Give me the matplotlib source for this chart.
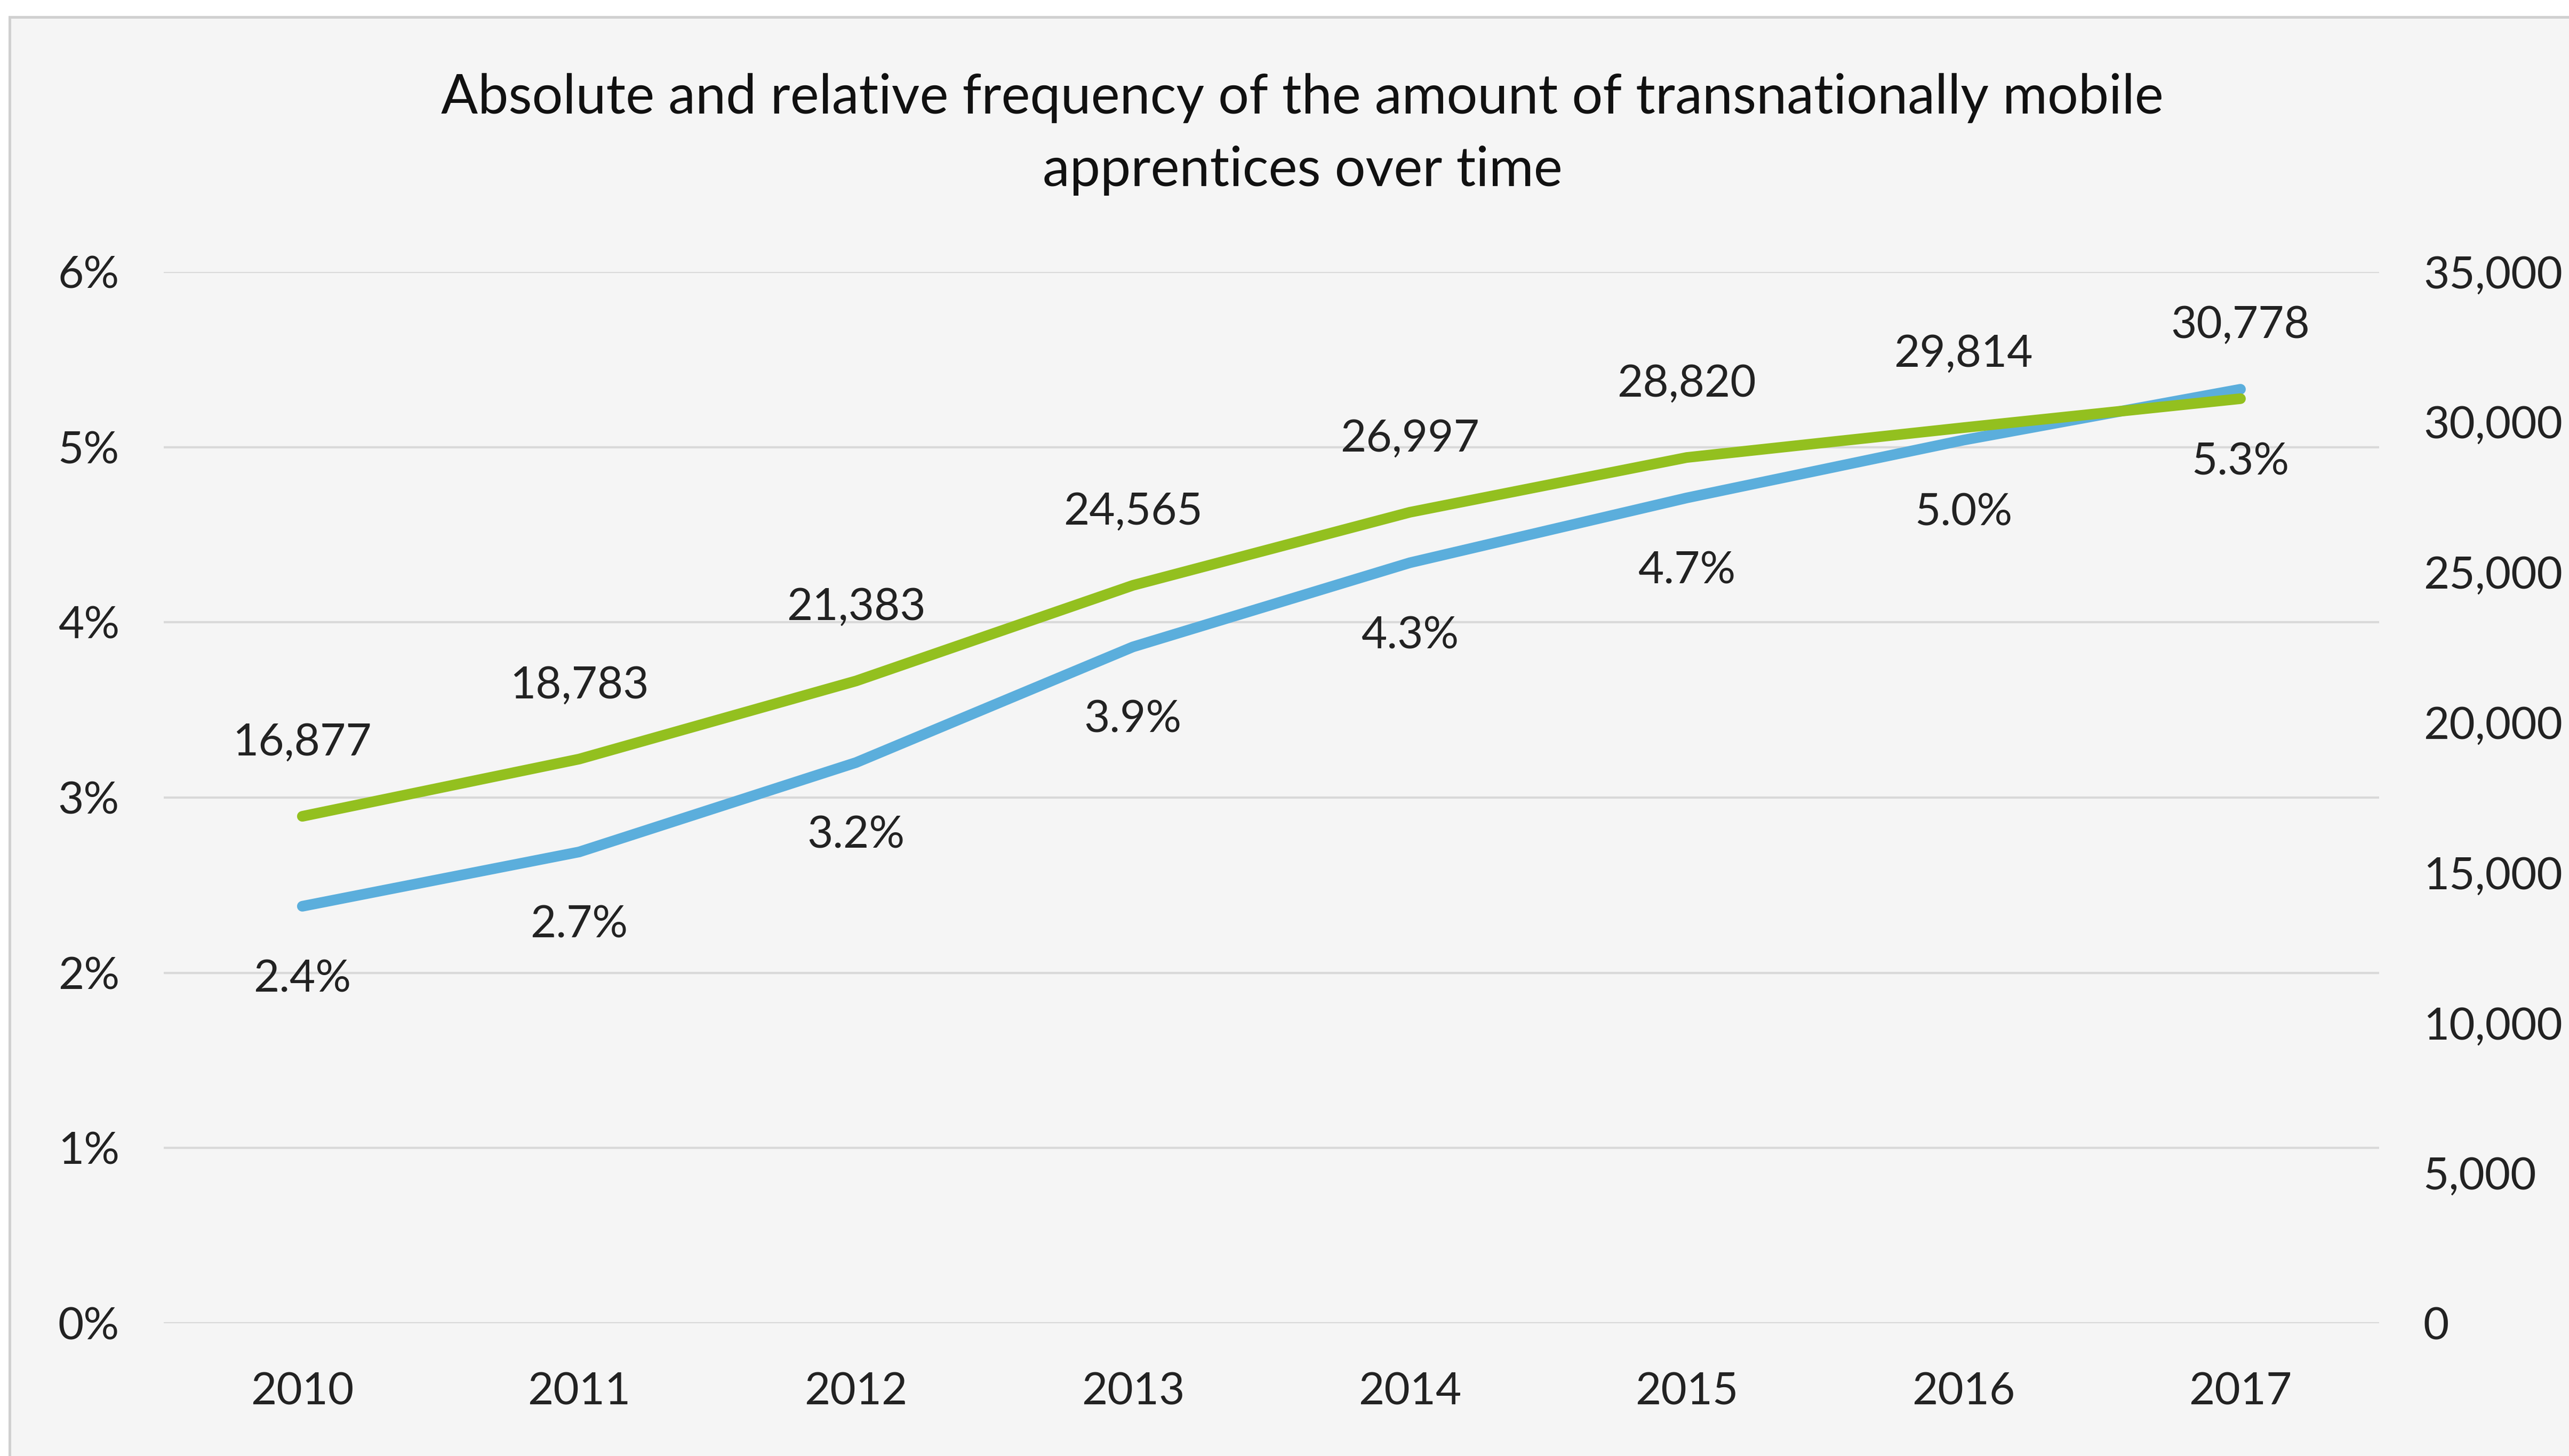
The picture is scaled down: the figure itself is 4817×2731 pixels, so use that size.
import matplotlib.pyplot as plt
from matplotlib.patches import Rectangle
from matplotlib.ticker import FuncFormatter

years = ['2010', '2011', '2012', '2013', '2014', '2015', '2016', '2017']
share = [2.38, 2.69, 3.20, 3.86, 4.34, 4.71, 5.04, 5.33]   # relative, %
apprentices = [16877, 18783, 21383, 24565, 26997, 28820, 29814, 30778]   # absolute

blue = '#5BAEDC'
green = '#93C01F'
plt.rcParams['font.family'] = ['Lato', 'DejaVu Sans']

fig = plt.figure(figsize=(4817 / 300, 2731 / 300), dpi=300, facecolor='white')
# grey chart area with thin border (runs past right and bottom edge)
fig.patches.append(Rectangle((0.0037, -0.05), 1.1, 0.9883 + 0.05, transform=fig.transFigure,
                             facecolor='#f5f5f5', edgecolor='#d0d0d0', linewidth=1.2, zorder=-10))

ax = fig.add_axes([0.0638, 0.0911, 0.926 - 0.0638, 0.8133 - 0.0911])
ax.set_facecolor('none')
ax2 = ax.twinx()

x = list(range(len(years)))
ax.plot(x, share, color=blue, lw=4.8, solid_capstyle='round', zorder=3)
ax2.plot(x, apprentices, color=green, lw=4.8, solid_capstyle='round', zorder=3)

ax.set_xlim(-0.5, len(years) - 0.5)
ax.set_ylim(0, 6)
ax2.set_ylim(0, 35000)
ax.set_yticks(range(0, 7))
ax2.set_yticks(range(0, 35001, 5000))
ax.yaxis.set_major_formatter(FuncFormatter(lambda v, p: f'{v:.0f}%'))
ax2.yaxis.set_major_formatter(FuncFormatter(lambda v, p: f'{v:,.0f}'))
ax.set_xticks(x)
ax.set_xticklabels(years)

ax.grid(axis='y', color='#d9d9d9', lw=1.0)
ax.set_axisbelow(True)
for a in (ax, ax2):
    for s in a.spines.values():
        s.set_visible(False)
    a.tick_params(length=0, labelsize=20, colors='#222222')
ax.tick_params(axis='y', pad=20)
ax2.tick_params(axis='y', pad=20)
ax.tick_params(axis='x', pad=22)

for i in x:
    ax.annotate(f'{share[i]:.1f}%', (i, share[i]), xytext=(0, -33), textcoords='offset points',
                ha='center', va='center', fontsize=20, color='#222222')
    ax2.annotate(f'{apprentices[i]:,}', (i, apprentices[i]), xytext=(0, 33), textcoords='offset points',
                 ha='center', va='center', fontsize=20, color='#222222')

title_lines = ['Absolute and relative frequency of the amount of transnationally mobile',
               'apprentices over time']
fig.text(0.507, 0.9326, title_lines[0], ha='center', va='center', fontsize=24.5, color='#111111')
fig.text(0.507, 0.8828, title_lines[1], ha='center', va='center', fontsize=24.5, color='#111111')

fig.savefig('out.png', dpi=300, facecolor='white')
